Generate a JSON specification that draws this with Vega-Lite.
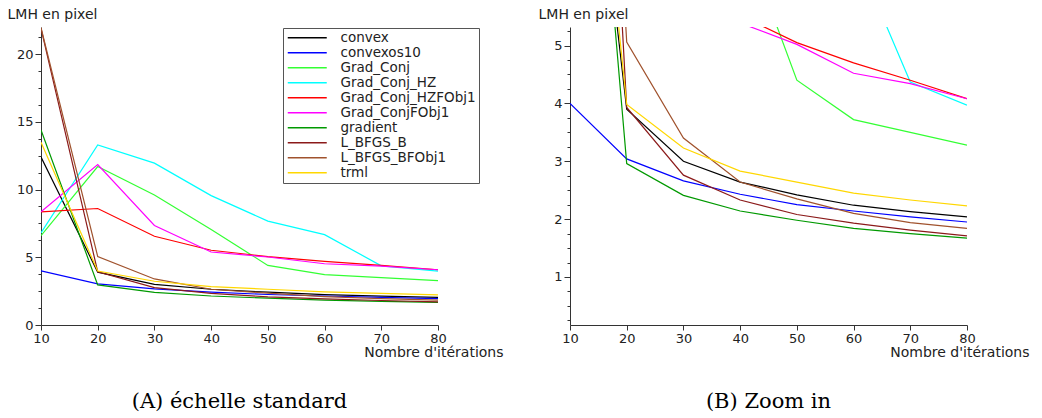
{
  "$schema": "https://vega.github.io/schema/vega-lite/v6.json",
  "padding": {"left": 7, "top": 7, "right": 5, "bottom": 5},
  "background": "white",
  "bounds": "flush",
  "spacing": 132,
  "datasets": {
    "lmh": [
      {"series": "convex", "x": 10, "y": 12.4}, {"series": "convex", "x": 20, "y": 3.9}, {"series": "convex", "x": 30, "y": 3.0}, {"series": "convex", "x": 40, "y": 2.64}, {"series": "convex", "x": 50, "y": 2.42}, {"series": "convex", "x": 60, "y": 2.24}, {"series": "convex", "x": 70, "y": 2.13}, {"series": "convex", "x": 80, "y": 2.04},
      {"series": "convexos10", "x": 10, "y": 4.0}, {"series": "convexos10", "x": 20, "y": 3.04}, {"series": "convexos10", "x": 30, "y": 2.66}, {"series": "convexos10", "x": 40, "y": 2.43}, {"series": "convexos10", "x": 50, "y": 2.25}, {"series": "convexos10", "x": 60, "y": 2.14}, {"series": "convexos10", "x": 70, "y": 2.04}, {"series": "convexos10", "x": 80, "y": 1.95},
      {"series": "Grad_Conj", "x": 10, "y": 6.6}, {"series": "Grad_Conj", "x": 20, "y": 11.7}, {"series": "Grad_Conj", "x": 30, "y": 9.6}, {"series": "Grad_Conj", "x": 40, "y": 7.05}, {"series": "Grad_Conj", "x": 50, "y": 4.4}, {"series": "Grad_Conj", "x": 60, "y": 3.72}, {"series": "Grad_Conj", "x": 70, "y": 3.5}, {"series": "Grad_Conj", "x": 80, "y": 3.28},
      {"series": "Grad_Conj_HZ", "x": 10, "y": 6.8}, {"series": "Grad_Conj_HZ", "x": 20, "y": 13.3}, {"series": "Grad_Conj_HZ", "x": 30, "y": 11.95}, {"series": "Grad_Conj_HZ", "x": 40, "y": 9.55}, {"series": "Grad_Conj_HZ", "x": 50, "y": 7.67}, {"series": "Grad_Conj_HZ", "x": 60, "y": 6.67}, {"series": "Grad_Conj_HZ", "x": 70, "y": 4.37}, {"series": "Grad_Conj_HZ", "x": 80, "y": 3.97},
      {"series": "Grad_Conj_HZFObj1", "x": 10, "y": 8.35}, {"series": "Grad_Conj_HZFObj1", "x": 20, "y": 8.6}, {"series": "Grad_Conj_HZFObj1", "x": 30, "y": 6.55}, {"series": "Grad_Conj_HZFObj1", "x": 40, "y": 5.52}, {"series": "Grad_Conj_HZFObj1", "x": 50, "y": 5.05}, {"series": "Grad_Conj_HZFObj1", "x": 60, "y": 4.7}, {"series": "Grad_Conj_HZFObj1", "x": 70, "y": 4.4}, {"series": "Grad_Conj_HZFObj1", "x": 80, "y": 4.08},
      {"series": "Grad_ConjFObj1", "x": 10, "y": 8.35}, {"series": "Grad_ConjFObj1", "x": 20, "y": 11.85}, {"series": "Grad_ConjFObj1", "x": 30, "y": 7.35}, {"series": "Grad_ConjFObj1", "x": 40, "y": 5.39}, {"series": "Grad_ConjFObj1", "x": 50, "y": 5.02}, {"series": "Grad_ConjFObj1", "x": 60, "y": 4.52}, {"series": "Grad_ConjFObj1", "x": 70, "y": 4.34}, {"series": "Grad_ConjFObj1", "x": 80, "y": 4.08},
      {"series": "gradient", "x": 10, "y": 14.4}, {"series": "gradient", "x": 20, "y": 2.96}, {"series": "gradient", "x": 30, "y": 2.41}, {"series": "gradient", "x": 40, "y": 2.14}, {"series": "gradient", "x": 50, "y": 1.98}, {"series": "gradient", "x": 60, "y": 1.84}, {"series": "gradient", "x": 70, "y": 1.75}, {"series": "gradient", "x": 80, "y": 1.67},
      {"series": "L_BFGS_B", "x": 10, "y": 21.9}, {"series": "L_BFGS_B", "x": 20, "y": 3.93}, {"series": "L_BFGS_B", "x": 30, "y": 2.76}, {"series": "L_BFGS_B", "x": 40, "y": 2.33}, {"series": "L_BFGS_B", "x": 50, "y": 2.08}, {"series": "L_BFGS_B", "x": 60, "y": 1.93}, {"series": "L_BFGS_B", "x": 70, "y": 1.81}, {"series": "L_BFGS_B", "x": 80, "y": 1.71},
      {"series": "L_BFGS_BFObj1", "x": 10, "y": 21.95}, {"series": "L_BFGS_BFObj1", "x": 20, "y": 5.06}, {"series": "L_BFGS_BFObj1", "x": 30, "y": 3.4}, {"series": "L_BFGS_BFObj1", "x": 40, "y": 2.64}, {"series": "L_BFGS_BFObj1", "x": 50, "y": 2.35}, {"series": "L_BFGS_BFObj1", "x": 60, "y": 2.1}, {"series": "L_BFGS_BFObj1", "x": 70, "y": 1.94}, {"series": "L_BFGS_BFObj1", "x": 80, "y": 1.84},
      {"series": "trml", "x": 10, "y": 13.5}, {"series": "trml", "x": 20, "y": 3.98}, {"series": "trml", "x": 30, "y": 3.23}, {"series": "trml", "x": 40, "y": 2.83}, {"series": "trml", "x": 50, "y": 2.64}, {"series": "trml", "x": 60, "y": 2.45}, {"series": "trml", "x": 70, "y": 2.33}, {"series": "trml", "x": 80, "y": 2.23}
    ]
  },
  "resolve": {"legend": {"color": "independent"}, "scale": {"y": "independent"}},
  "hconcat": [
    {
      "width": 397,
      "height": 298,
      "data": {"name": "lmh"},
      "title": {"text": "(A) échelle standard", "orient": "bottom", "frame": "group", "anchor": "middle", "baseline": "alphabetic", "offset": 49, "font": "DejaVu Serif", "fontSize": 21, "fontWeight": "normal", "color": "#000"},
      "mark": {"type": "line", "strokeWidth": 1.2, "clip": true},
      "encoding": {
        "x": {"field": "x", "type": "quantitative", "scale": {"domain": [10, 80], "nice": false, "zero": false},
          "axis": {"values": [10, 20, 30, 40, 50, 60, 70, 80], "title": "Nombre d'itérations", "titleX": 462, "titleY": 27, "titleAlign": "right", "titleBaseline": "middle", "labelFlush": false, "tickSize": 5}},
        "y": {"field": "y", "type": "quantitative", "scale": {"domain": [0, 22], "nice": false},
          "axis": {"values": [0, 1.25, 2.5, 3.75, 5, 6.25, 7.5, 8.75, 10, 11.25, 12.5, 13.75, 15, 16.25, 17.5, 18.75, 20, 21.25],
            "labelExpr": "datum.value % 5 === 0 ? format(datum.value, 'd') : ''", "labelOverlap": false,
            "tickSize": {"condition": {"test": "datum.value % 5 === 0", "value": 6}, "value": 3},
            "title": "LMH en pixel", "titleAngle": 0, "titleX": -34, "titleY": -13, "titleAlign": "left", "titleBaseline": "middle"}},
        "color": {"field": "series", "type": "nominal",
          "scale": {"domain": ["convex", "convexos10", "Grad_Conj", "Grad_Conj_HZ", "Grad_Conj_HZFObj1", "Grad_ConjFObj1", "gradient", "L_BFGS_B", "L_BFGS_BFObj1", "trml"],
            "range": ["#000000", "#0000ff", "#33ff33", "#00ffff", "#ff0000", "#ff00ff", "#009900", "#8b1a1a", "#a0522d", "#ffd700"]},
          "legend": {"orient": "none", "legendX": 242, "legendY": 1, "title": null, "symbolType": "M-1,0H6.8", "symbolSize": 100, "symbolStrokeWidth": 1.5, "labelFontSize": 13.5, "labelFont": "DejaVu Sans", "labelColor": "#222", "padding": 3, "rowPadding": 0, "labelOffset": 41, "strokeColor": "#555", "fillColor": "white"}}
      }
    },
    {
      "width": 397,
      "height": 298,
      "data": {"name": "lmh"},
      "title": {"text": "(B) Zoom in", "orient": "bottom", "frame": "group", "anchor": "middle", "baseline": "alphabetic", "offset": 49, "font": "DejaVu Serif", "fontSize": 21, "fontWeight": "normal", "color": "#000"},
      "mark": {"type": "line", "strokeWidth": 1.2, "clip": true},
      "encoding": {
        "x": {"field": "x", "type": "quantitative", "scale": {"domain": [10, 80], "nice": false, "zero": false},
          "axis": {"values": [10, 20, 30, 40, 50, 60, 70, 80], "title": "Nombre d'itérations", "titleX": 459, "titleY": 27, "titleAlign": "right", "titleBaseline": "middle", "labelFlush": false, "tickSize": 5}},
        "y": {"field": "y", "type": "quantitative", "scale": {"domain": [0.17, 5.32], "nice": false, "zero": false},
          "axis": {"values": [0.25, 0.5, 0.75, 1, 1.25, 1.5, 1.75, 2, 2.25, 2.5, 2.75, 3, 3.25, 3.5, 3.75, 4, 4.25, 4.5, 4.75, 5, 5.25],
            "labelExpr": "datum.value % 1 === 0 ? format(datum.value, 'd') : ''", "labelOverlap": false,
            "tickSize": {"condition": {"test": "datum.value % 1 === 0", "value": 6}, "value": 3},
            "title": "LMH en pixel", "titleAngle": 0, "titleX": -32, "titleY": -13, "titleAlign": "left", "titleBaseline": "middle"}},
        "color": {"field": "series", "type": "nominal",
          "scale": {"domain": ["convex", "convexos10", "Grad_Conj", "Grad_Conj_HZ", "Grad_Conj_HZFObj1", "Grad_ConjFObj1", "gradient", "L_BFGS_B", "L_BFGS_BFObj1", "trml"],
            "range": ["#000000", "#0000ff", "#33ff33", "#00ffff", "#ff0000", "#ff00ff", "#009900", "#8b1a1a", "#a0522d", "#ffd700"]},
          "legend": null}
      }
    }
  ],
  "config": {
    "view": {"stroke": null},
    "font": "DejaVu Sans",
    "axis": {"grid": false, "domainColor": "#333", "tickColor": "#333", "labelColor": "#222", "titleColor": "#222", "labelFont": "DejaVu Sans", "labelFontSize": 13, "titleFont": "DejaVu Sans", "titleFontSize": 14, "titleFontWeight": "normal", "labelPadding": 2}
  }
}
